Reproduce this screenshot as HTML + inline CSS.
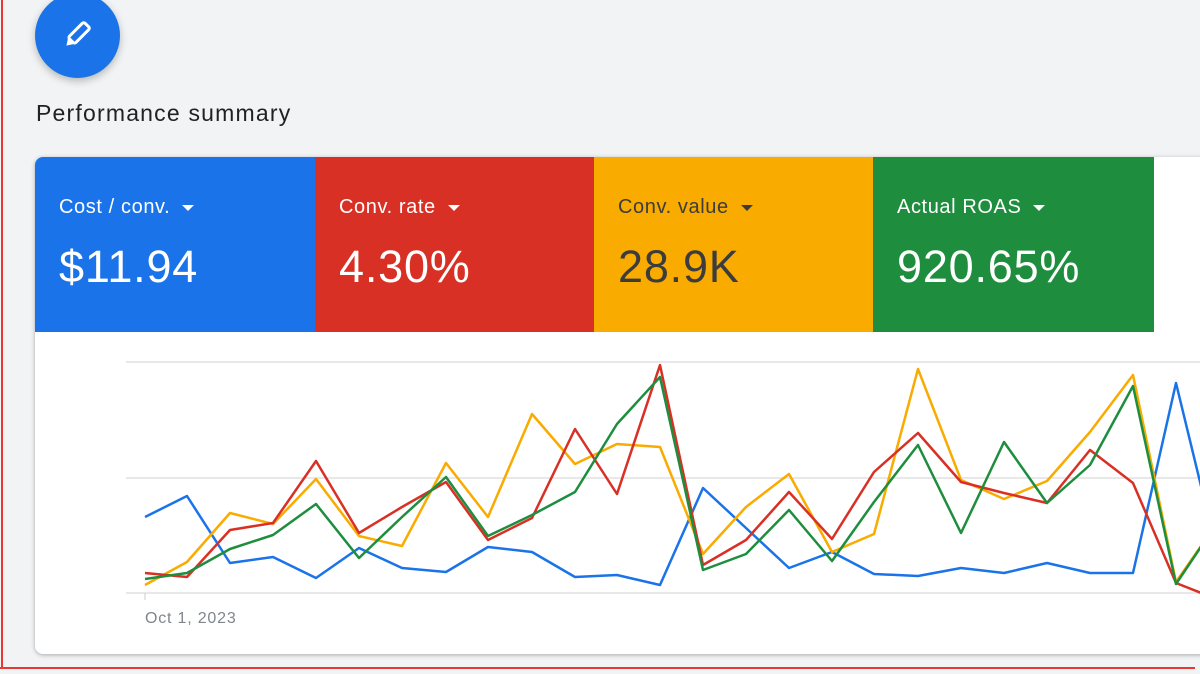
<!DOCTYPE html>
<html><head><style>
body{margin:0;width:1200px;height:674px;background:#f1f3f4;position:relative;overflow:hidden;font-family:"Liberation Sans",sans-serif}
.fab{position:absolute;left:35px;top:-7px;width:85px;height:85px;border-radius:50%;background:#1a73e8;box-shadow:0 3px 8px rgba(0,0,0,.25)}
.title{position:absolute;left:36px;top:100px;font-size:23px;letter-spacing:1.2px;color:#202124}
.card{position:absolute;left:35px;top:157px;width:1180px;height:497px;background:#fff;border-radius:8px;box-shadow:0 1px 4px rgba(0,0,0,.3);overflow:hidden}
.tile{position:absolute;top:0;height:175px;color:#fff}
.tile .l{position:absolute;left:24px;top:39px;font-size:20px;letter-spacing:0.6px}
.tile .v{position:absolute;left:24px;top:84px;font-size:45px;letter-spacing:0.8px}
.tri{display:inline-block;width:0;height:0;border-left:6px solid transparent;border-right:6px solid transparent;border-top:6px solid currentColor;vertical-align:middle;margin-left:12px}
</style></head><body>
<div style="position:absolute;left:1px;top:0;width:2px;height:668px;background:#e53935"></div>
<div style="position:absolute;left:0;top:667px;width:1195px;height:2px;background:#e53935"></div>
<div class="fab"><svg width="85" height="85" viewBox="0 0 85 85"><g transform="rotate(45 42 42)"><rect x="37.5" y="28" width="9" height="22" rx="2" fill="none" stroke="#fff" stroke-width="3"/><path d="M37.5 50 L42 57 L46.5 50 Z" fill="#fff"/></g></svg></div>
<div class="title">Performance summary</div>
<div class="card">
<div class="tile" style="left:0;width:280px;background:#1a73e8"><div class="l">Cost / conv.<span class="tri"></span></div><div class="v">$11.94</div></div>
<div class="tile" style="left:280px;width:279px;background:#d93025"><div class="l">Conv. rate<span class="tri"></span></div><div class="v">4.30%</div></div>
<div class="tile" style="left:559px;width:279px;background:#f9ab00;color:#3c3c3c"><div class="l">Conv. value<span class="tri"></span></div><div class="v">28.9K</div></div>
<div class="tile" style="left:838px;width:281px;background:#1e8e3e"><div class="l">Actual ROAS<span class="tri"></span></div><div class="v">920.65%</div></div>
</div>
<svg style="position:absolute;left:0;top:0" width="1200" height="674">
<g stroke="#e0e0e0" stroke-width="1.5"><line x1="126" y1="362" x2="1200" y2="362"/><line x1="126" y1="478" x2="1200" y2="478"/><line x1="126" y1="593" x2="1200" y2="593"/></g>
<line x1="145" y1="593" x2="145" y2="600" stroke="#ccc"/>
<text x="145" y="623" font-size="16" letter-spacing="0.8" fill="#80868b" font-family="Liberation Sans">Oct 1, 2023</text>
<g fill="none" stroke-width="2.5" stroke-linejoin="round">
<polyline stroke="#1a73e8" points="145,517 187,496 230,563 273,557 316,578 359,548 402,568 446,572 488,547 532,552 575,577 617,575 660,585 703,488 746,528 789,568 832,552 874,574 918,576 961,568 1004,573 1047,563 1090,573 1133,573 1176,383 1219,560"/>
<polyline stroke="#f9ab00" points="145,585 187,562 230,513 273,524 316,479 359,536 402,546 446,463 488,517 532,414 575,464 617,444 660,447 703,554 746,507 789,474 832,552 874,534 918,369 961,480 1004,499 1047,481 1090,432 1133,375 1176,582 1219,520"/>
<polyline stroke="#d93025" points="145,573 187,577 230,530 273,523 316,461 359,533 402,507 446,482 488,540 532,518 575,429 617,494 660,365 703,565 746,540 789,492 832,539 874,472 918,433 961,482 1004,493 1047,503 1090,450 1133,483 1176,583 1219,600"/>
<polyline stroke="#1e8e3e" points="145,579 187,573 230,549 273,535 316,504 359,558 402,517 446,477 488,536 532,515 575,492 617,424 660,377 703,570 746,554 789,510 832,561 874,502 918,445 961,533 1004,442 1047,503 1090,465 1133,386 1176,584 1219,520"/>
</g>
</svg>
</body></html>
